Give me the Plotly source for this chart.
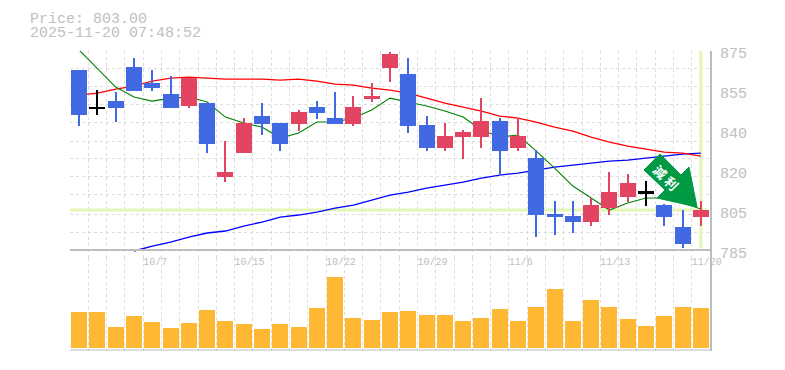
import plotly.graph_objects as go

dates = ["10/1","10/2","10/3","10/6","10/7","10/8","10/9","10/10","10/14","10/15","10/16","10/17","10/20","10/21","10/22","10/23","10/24","10/27","10/28","10/29","10/30","10/31","11/4","11/5","11/6","11/7","11/10","11/11","11/12","11/13","11/14","11/17","11/18","11/19","11/20"]
opens = [866.0,849.6,852.05,867.35,860.15,855.2,849.8,851.15,817.85,828.65,845.3,842.15,841.7,849.35,844.4,841.7,852.95,866.9,864.2,841.25,830.9,835.85,835.85,843.05,830.9,826.4,801.2,800.3,797.6,803.9,808.85,811.6,805.25,795.35,799.85]
closes = [845.75,848.7,848.9,856.55,857.9,848.9,862.4,832.7,820.1,842.15,841.7,832.7,847.1,846.65,841.7,849.35,854.3,873.2,840.8,830.9,836.3,838.1,843.05,829.55,836.3,800.75,799.85,797.6,805.25,811.1,815.15,810.6,799.85,787.7,803.0]
highs = [866.0,857.0,856.1,871.4,866.0,863.3,862.4,851.15,834.05,844.4,851.15,842.15,848.0,852.05,856.1,854.3,860.15,874.1,871.4,845.3,842.15,839.0,853.4,844.4,844.4,830.0,807.05,807.05,808.4,820.1,819.2,816.05,805.7,803.0,807.05]
lows = [840.8,845.75,842.6,856.55,856.55,848.9,848.9,828.65,815.6,828.65,836.75,829.55,838.55,843.95,841.7,840.8,851.6,860.6,837.65,829.55,829.55,825.95,830.9,818.3,829.55,790.85,791.75,792.65,795.8,800.75,806.6,804.8,795.8,785.9,795.8]
ma_short = [875,866.9,858.35,853.85,852.05,853.4,853.85,851.6,844.85,842.15,840.35,835.4,837.65,842.6,842.6,844.4,848,853.4,851.6,849.8,847.55,844.85,839,835.85,836.75,829.55,821.9,813.8,808.4,803,806.15,808.4,808.4,806.15,803.45]
ma_mid = [854.75,855.65,857.45,858.8,861.05,862.4,862.85,862.4,861.95,861.95,861.95,861.5,861.95,861.05,859.7,859.25,857.9,857,855.65,853.4,851.15,849.35,847.55,845.3,844.4,842.6,840.35,838.55,835.85,833.6,831.8,830.45,829.1,828.65,827.3]
ma_long = [None,None,None,784.55,786.8,788.6,790.85,792.65,793.55,795.8,797.6,799.85,800.75,802.1,803.9,805.25,807.5,809.75,811.1,812.9,814.25,815.6,817.4,818.75,819.65,821,822.35,823.25,824.15,825.05,825.5,826.4,827.3,828.2,828.65]
volumes = [36,36,21,32,26,20,25,38,27,24,19,24,21,40,71,30,28,36,37,33,33,27,30,39,27,41,59,27,48,41,29,22,32,41,40]
y_labels = ["875","855","840","820","805","785"]
y_ticks = [875,857,839,821,803,785]
h_grid = [874.6,866.5,858.4,850.3,842.2,834.0,826.0,817.9,809.8,801.2,793.1]
label_idx = [4,9,14,19,24,29,34]
last_price = 803.0
last_index = 34

W, H = 785, 370
def py(px): return (H - px) / H
LABEL_SHIFT = 1.35
GRID = "#dcdcdc"
AXIS = "#bdbdbd"
TXT = "#c0c0c0"
BLUE = "#4169E1"
RED = "#E34461"
n = len(dates)
xs = list(range(n))
def is_doji(i): return abs(closes[i]-opens[i]) < 1.01
def col(i):
    if is_doji(i): return "#000000"
    return RED if closes[i] > opens[i] else BLUE

fig = go.Figure()
fig.add_trace(go.Scatter(x=[-0.5, n-0.6], y=[last_price]*2, mode="lines", line=dict(color="#E4F5B5", width=3), xaxis="x", yaxis="y"))
fig.add_trace(go.Scatter(x=[last_index]*2, y=[785.6, 875], mode="lines", line=dict(color="#E4F5B5", width=3), xaxis="x", yaxis="y"))
fig.add_trace(go.Scatter(x=xs, y=ma_long, mode="lines", line=dict(color="#0000FF", width=1.3), xaxis="x", yaxis="y"))
fig.add_trace(go.Scatter(x=xs, y=ma_mid, mode="lines", line=dict(color="#FF0000", width=1.3), xaxis="x", yaxis="y"))
fig.add_trace(go.Scatter(x=xs, y=ma_short, mode="lines", line=dict(color="#008000", width=1.1), xaxis="x", yaxis="y"))
fig.add_trace(go.Bar(x=xs, y=[h-l for h,l in zip(highs,lows)], base=lows, width=0.11,
                     marker=dict(color=[col(i) for i in xs], line_width=0), xaxis="x", yaxis="y3"))
fig.add_trace(go.Bar(x=xs, y=[0.9 if is_doji(i) else abs(closes[i]-opens[i]) for i in xs],
                     base=[(opens[i]+closes[i])/2-0.45 if is_doji(i) else min(opens[i],closes[i]) for i in xs], width=0.88,
                     marker=dict(color=[col(i) for i in xs], line_width=0), xaxis="x", yaxis="y3"))
fig.add_trace(go.Bar(x=xs, y=volumes, width=0.88, marker=dict(color="#FFB833", line_width=0), xaxis="x2", yaxis="y2"))

x_common = dict(range=[-0.5, 34.5], showgrid=False, zeroline=False, showline=False, automargin=False,
                minor=dict(tickvals=[i-0.5 for i in range(n)], showgrid=True, griddash="3px,3px", gridcolor=GRID, gridwidth=1, ticks=""))
y_range = [781.4, 874.6]
x_tickvals = [i - 0.5 + len(dates[i]) * 3 / 18.26 for i in label_idx]
fig.update_layout(
    template=None,
    width=W, height=H, autosize=False, paper_bgcolor="white", plot_bgcolor="white",
    margin=dict(l=70, r=75, t=0, b=0), showlegend=False, barmode="overlay", bargap=0,
    font=dict(family="Liberation Mono", color=TXT),
    xaxis=dict(**x_common, anchor="free", position=py(254), side="bottom",
               tickmode="array", tickvals=x_tickvals, ticktext=[dates[i] for i in label_idx],
               tickfont=dict(size=10, color=TXT, family="Liberation Mono"), ticks=""),
    xaxis2=dict(**x_common, matches="x", anchor="y2", showticklabels=False),
    yaxis=dict(domain=[py(258), py(51)], range=y_range, side="right", anchor="x", automargin=False,
               tickmode="array", tickvals=[v-LABEL_SHIFT for v in y_ticks], ticktext=y_labels,
               tickfont=dict(size=15, color=TXT, family="Liberation Mono"), ticks="", ticklabelstandoff=5,
               showgrid=False, zeroline=False, showline=True, linecolor=AXIS, linewidth=2,
               minor=dict(tickvals=h_grid, showgrid=True, griddash="3px,3px", gridcolor=GRID, gridwidth=1, ticks="")),
    yaxis2=dict(domain=[py(350.5), py(258)], range=[-2, 90], side="right", anchor="x2", automargin=False,
                showticklabels=False, showgrid=False, zeroline=False, showline=True, linecolor=AXIS, linewidth=2),
    yaxis3=dict(overlaying="y", range=y_range, side="right", anchor="x", visible=False),
)
fig.add_shape(type="line", xref="x", yref="y", x0=-0.5, x1=34.5, y0=785, y1=785, line=dict(color=AXIS, width=2), layer="above")
fig.add_shape(type="line", xref="x2", yref="y2", x0=-0.5, x1=34.5, y0=-2, y1=-2, line=dict(color=AXIS, width=2), layer="above")
fig.add_annotation(xref="paper", yref="paper", x=-42/640, y=py(19), text="Price: 803.00", showarrow=False, xanchor="left", yanchor="middle",
                   font=dict(size=15, color=TXT, family="Liberation Mono"))
fig.add_annotation(xref="paper", yref="paper", x=-42/640, y=py(34), text="2025-11-20 07:48:52", showarrow=False, xanchor="left", yanchor="middle",
                   font=dict(size=15, color=TXT, family="Liberation Mono"))
def px(x): return (x-70)/640
pts = [(660,154),(681,175),(689,167),(697,207),(657,198),(665,190),(644,170)]
path = "M " + " L ".join(f"{px(a):.4f},{py(b):.4f}" for a,b in pts) + " Z"
fig.add_shape(type="path", xref="paper", yref="paper", path=path, fillcolor="#009944", line=dict(color="#009944", width=1), layer="above")
fig.add_annotation(xref="paper", yref="paper", x=px(666), y=py(177), text="<b>減 利</b>", textangle=45, showarrow=False,
                   xanchor="center", yanchor="middle",
                   font=dict(size=13, color="#ffffff", family="Noto Sans CJK JP"))
fig.write_html("out.html", config=dict(displayModeBar=False), post_script="document.body.style.margin='0';")
